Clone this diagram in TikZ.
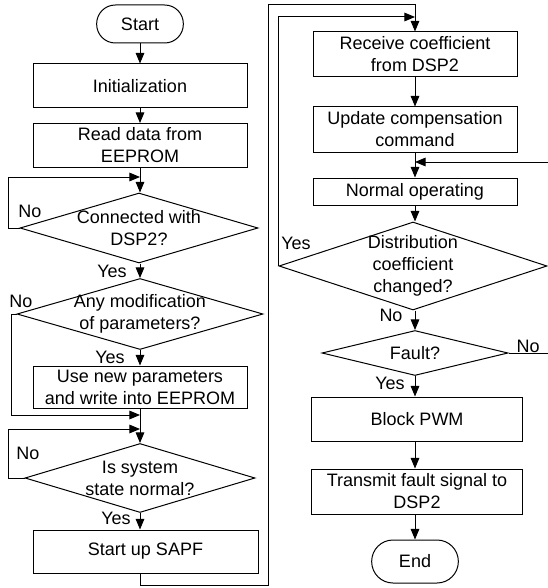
\documentclass[tikz,border=0pt]{standalone}
\usepackage{fontspec}
\setmainfont{Liberation Sans}
\usetikzlibrary{shapes.geometric,arrows.meta}

\begin{document}
\begin{tikzpicture}[x=.75pt,y=-.75pt,>={Triangle[length=8pt,width=6.5pt]},line width=.75pt,font={\fontsize{13.5}{16.5}\selectfont}]
\tikzset{caja/.style={rectangle,draw,align=center,inner sep=0pt,minimum width=160.5pt,minimum height=33pt},
rombo/.style={diamond,draw,inner sep=0pt},
extremo/.style={rectangle,draw,rounded corners=14pt,minimum width=65pt,minimum height=28.5pt},
texto/.style={align=center}}

\useasboundingbox (0,0) rectangle (547,588);

  % left column
  \draw (140,24) node[extremo](start) {Start};
  \draw (140,86) node[caja](init) {Initialization};
  \draw (140,145.5) node[caja](read) {Read data from\\EEPROM};
  \draw (139,228) node[rombo,minimum width=178.5pt,minimum height=52.5pt,label={[texto]center:Connected with\\DSP2?}](d1) {};
  \draw (140,314) node[rombo,minimum width=184.5pt,minimum height=53.25pt,label={[texto]center:Any modification\\of parameters?}](d2) {};
  \draw (140,387) node[caja,minimum height=31.5pt](newpar) {Use new parameters\\and write into EEPROM};
  \draw (140,478) node[rombo,minimum width=172.5pt,minimum height=51.75pt,label={[texto]center:Is system\\state normal?}](d3) {};
  \draw (145.5,551.5) node[caja,minimum width=168.75pt,minimum height=32.25pt](sapf) {Start up SAPF};

  % right column
  \draw (415,54.5) node[caja,minimum width=153pt,minimum height=33.75pt](recv) {Receive coefficient\\from DSP2};
  \draw (415,129.5) node[caja,minimum width=153pt,minimum height=33.75pt](upd) {Update compensation\\command};
  \draw (415,191.5) node[caja,minimum width=153pt,minimum height=20.25pt](normal) {Normal operating};
  \draw (413,266) node[rombo,minimum width=201pt,minimum height=66pt,label={[texto]center:Distribution\\coefficient\\changed?}](d4) {};
  \draw (415,353) node[rombo,minimum width=139.5pt,minimum height=33.75pt,label={[texto]center:Fault?}](d5) {};
  \draw (417,419) node[caja,minimum width=158.25pt,minimum height=33pt](block) {Block PWM};
  \draw (417,491.5) node[caja,minimum width=158.25pt,minimum height=33.75pt](transmit) {Transmit fault signal to\\DSP2};
  \draw (415,561.5) node[extremo,rounded corners=16pt,minimum height=32.25pt](fin) {End};

  % yes / no
  \draw (30,211) node(no1) {No};
  \draw (112,271) node(yes1) {Yes};
  \draw (21,301) node(no2) {No};
  \draw (110,357) node(yes2) {Yes};
  \draw (28,453) node(no3) {No};
  \draw (116,518) node(yes3) {Yes};
  \draw (296,243) node(yes4) {Yes};
  \draw (391,315) node(no4) {No};
  \draw (528,346) node(no5) {No};
  \draw (390,383) node(yes5) {Yes};

  \coordinate (m1) at (140,177);
  \coordinate (m2) at (140,415);
  \coordinate (m3) at (140,429);
  \coordinate (m4) at (415,17);
  \coordinate (m5) at (415,162);

	\draw[->] (start) -- (init);
	\draw[->] (init) -- (read);
	\draw[->] (read) -- (d1.north -| read);
	\draw[->] (d1.west) -- ++(-11,0) |- (m1);
	\draw[->] (d1.south -| d2) -- (d2.north);
	\draw[->] (d2.west) -- ++(-5,0) |- (m2);
	\draw[->] (d2) -- (newpar);
	\draw[->] (newpar) -- (d3);
	\draw[->] (d3.west) -- ++(-16,0) |- (m3);
	\draw[->] (d3.south) -- (d3.south |- sapf.north);
	\draw[->] (d3.south |- sapf.south) -- (140,585) -| (268,5) -| (recv.north);

	\draw[->] (recv) -- (upd);
	\draw[->] (upd) -- (normal);
	\draw[->] (normal.south) -- (normal.south |- d4.north);
	\draw[->] (d4.west) |- (m4);
	\draw[->] (d4.south -| d5) -- (d5.north);
	\draw[->] (d5.south) -- (d5.south |- block.north);
	\draw[->] (block.south -| fin) -- (fin |- transmit.north);
	\draw[->] (transmit.south -| fin) -- (fin.north);
	\draw[->] (d5.east) -- (548,353) |- (m5);
\end{tikzpicture}
\end{document}
